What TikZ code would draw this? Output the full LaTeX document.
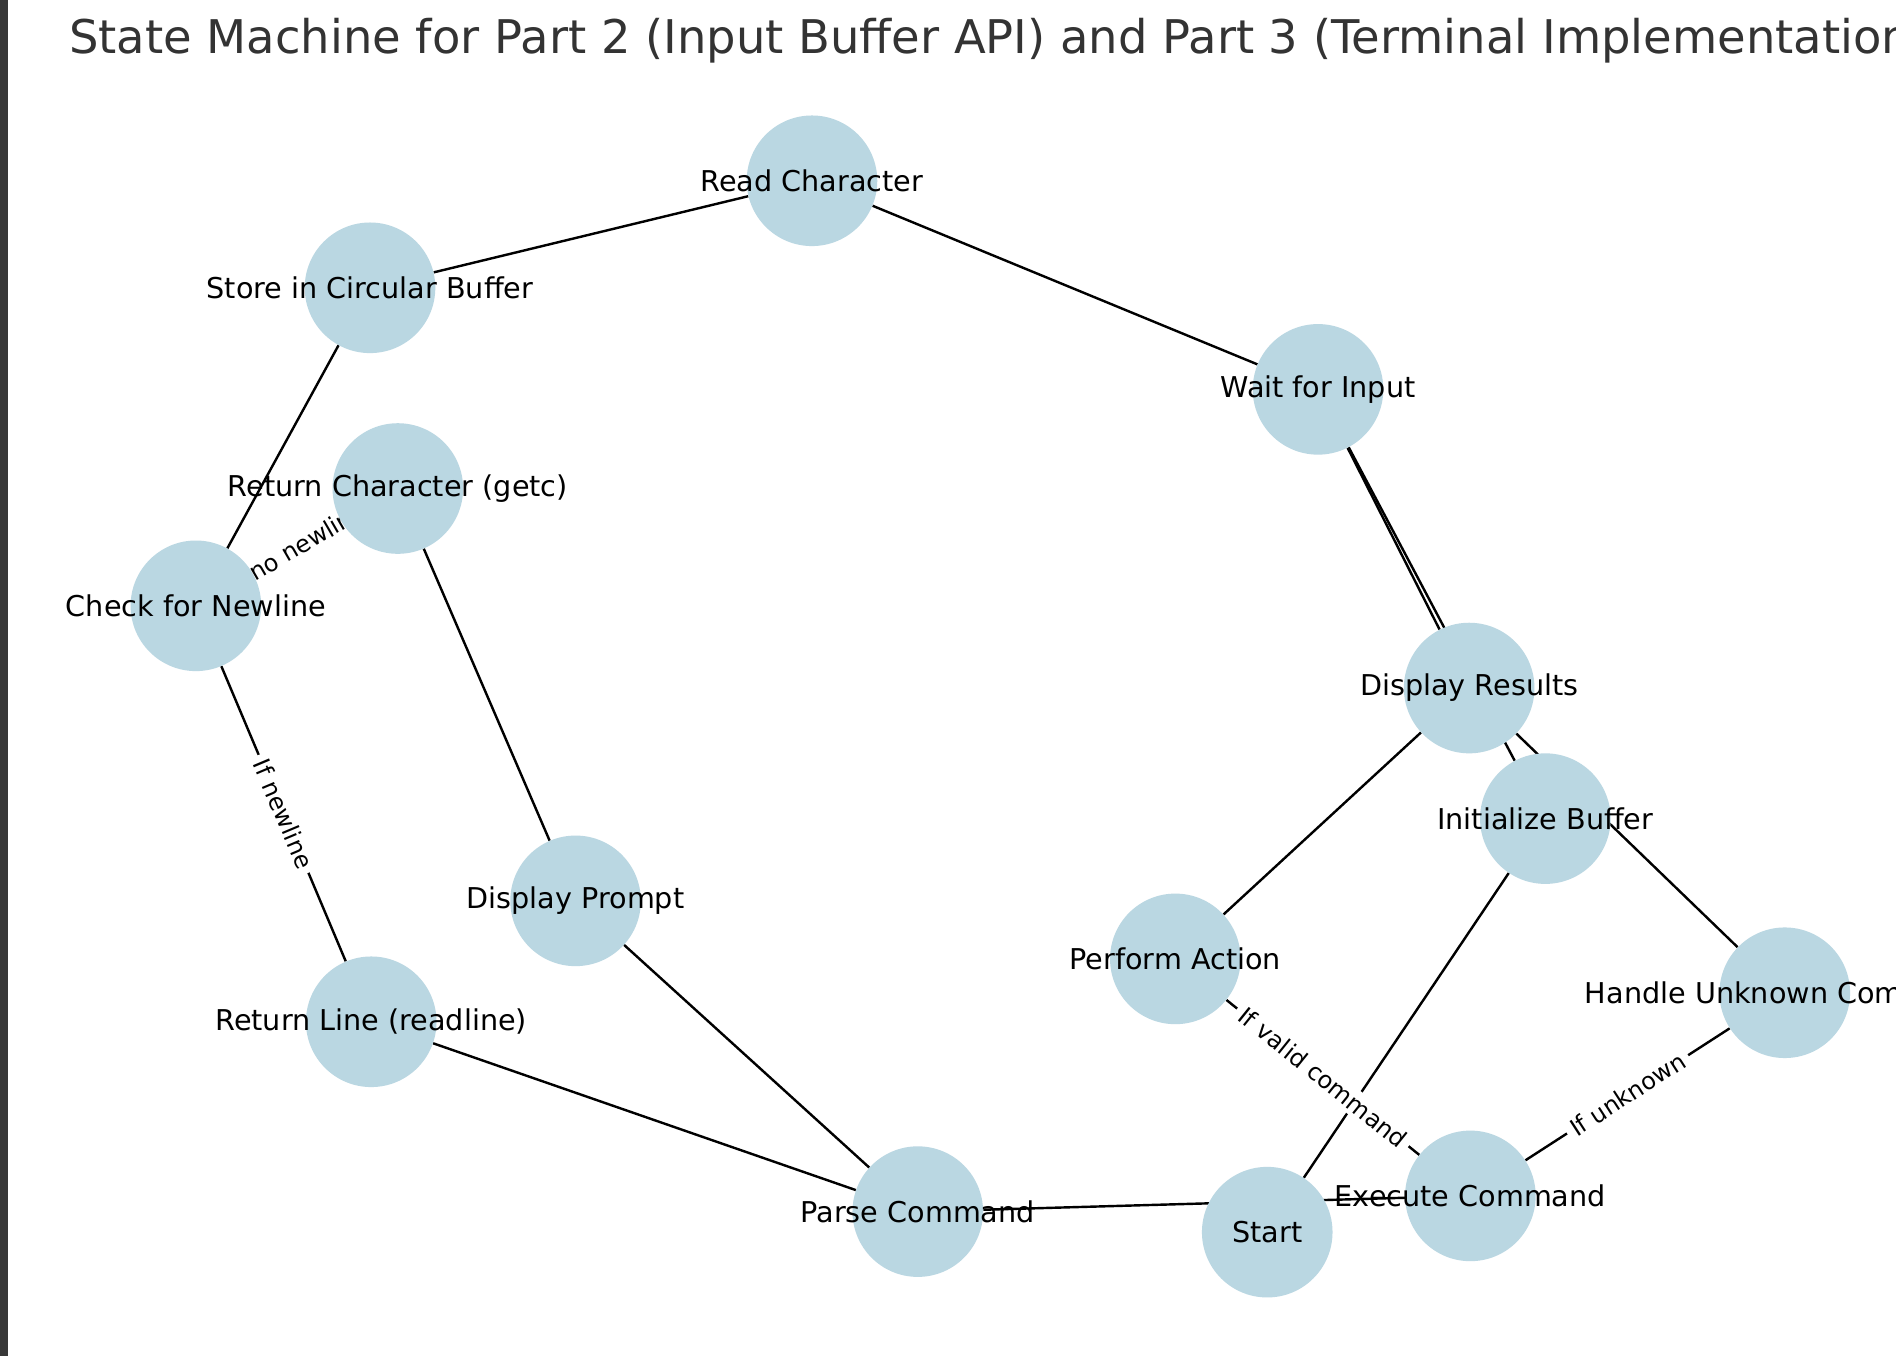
\documentclass[tikz,border=0pt]{standalone}
\usepackage{fontspec}
\setmainfont{DejaVu Sans}
\definecolor{nodeblue}{RGB}{186,215,226}
\definecolor{titlegray}{RGB}{51,51,51}
\definecolor{leftbar}{RGB}{56,56,56}
\pgfdeclarelayer{bglayer}
\pgfdeclarelayer{edgelayer}
\pgfdeclarelayer{lablayer}
\pgfdeclarelayer{textlayer}
\pgfsetlayers{bglayer,edgelayer,lablayer,main,textlayer}
\tikzset{
  statecirc/.style={circle, fill=nodeblue, minimum size=108pt, inner sep=0pt},
  statetext/.style={font=\fontsize{23.7}{28}\selectfont, inner sep=0pt, text=black},
  edgelab/.style={midway, sloped, fill=white, rounded corners=5pt, inner xsep=5pt, inner ysep=3pt, font=\fontsize{19.8}{23}\selectfont},
  conn/.style={line width=2pt, black},
}
\begin{document}
\begin{tikzpicture}[x=1pt,y=-1pt]
\useasboundingbox (0,0) rectangle (1568,1121);
\begin{pgfonlayer}{bglayer}
\fill[white] (0,0) rectangle (1568,1121);
\fill[leftbar] (0,0) rectangle (6.6,1121);
\end{pgfonlayer}

\begin{scope}
\clip (0,0) rectangle (1568,1121);
\node[anchor=base west, inner sep=0pt, text=titlegray, font=\fontsize{38.4}{45}\selectfont] (title) at (57,44) {State Machine for Part 2 (Input Buffer API) and Part 3 (Terminal Implementation)};
\end{scope}

% state circles
\node[statecirc] (read)    at (671.5,149.5) {};
\node[statecirc] (store)   at (306,238) {};
\node[statecirc] (wait)    at (1090,322) {};
\node[statecirc] (retchar) at (329,404) {};
\node[statecirc] (check)   at (162,501) {};
\node[statecirc] (disres)  at (1215,569) {};
\node[statecirc] (init)    at (1278,677) {};
\node[statecirc] (prompt)  at (476,745) {};
\node[statecirc] (perform) at (972,793) {};
\node[statecirc] (unknown) at (1476,821) {};
\node[statecirc] (retline) at (307,845) {};
\node[statecirc] (parse)   at (759,1002) {};
\node[statecirc] (start)   at (1048,1019) {};
\node[statecirc] (exec)    at (1216,989) {};

\begin{pgfonlayer}{textlayer}
\node[statetext] (read-t)    at (read)    {Read Character};
\node[statetext] (store-t)   at (store)   {Store in Circular Buffer};
\node[statetext] (wait-t)    at (wait)    {Wait for Input};
\node[statetext] (retchar-t) at (retchar) {Return Character (getc)};
\node[statetext] (check-t)   at (check)   {Check for Newline};
\node[statetext] (disres-t)  at (disres)  {Display Results};
\node[statetext] (init-t)    at (init)    {Initialize Buffer};
\node[statetext] (prompt-t)  at (prompt)  {Display Prompt};
\node[statetext] (perform-t) at (perform) {Perform Action};
\node[statetext] (unknown-t) at (unknown) {Handle Unknown Command};
\node[statetext] (retline-t) at (retline) {Return Line (readline)};
\node[statetext] (parse-t)   at (parse)   {Parse Command};
\node[statetext] (start-t)   at (start)   {Start};
\node[statetext] (exec-t)    at (exec)    {Execute Command};
\end{pgfonlayer}

\begin{pgfonlayer}{edgelayer}
\draw[conn] (start) -- (init);
\draw[conn] (init) -- (wait);
\draw[conn] (wait) -- (read);
\draw[conn] (read) -- (store);
\draw[conn] (store) -- (check);
\draw[conn] (check) -- (retline);
\draw[conn] (check) -- (retchar);
\draw[conn] (retline) -- (parse);
\draw[conn] (retchar) -- (prompt);
\draw[conn] (prompt) -- (parse);
\draw[conn] (parse) -- (exec);
\draw[conn] (exec) -- (perform);
\draw[conn] (exec) -- (unknown);
\draw[conn] (perform) -- (disres);
\draw[conn] (unknown) -- (disres);
\draw[conn] (disres) -- (wait);
\end{pgfonlayer}

\begin{pgfonlayer}{lablayer}
\path (check) -- node[edgelab] (lab-nonl) {If no newline} (retchar);
\path (check) -- node[edgelab] (lab-nl) {If newline} (retline);
\path (perform) -- node[edgelab] (lab-valid) {If valid command} (exec);
\path (exec) -- node[edgelab] (lab-unk) {If unknown} (unknown);
\end{pgfonlayer}
\end{tikzpicture}
\end{document}
